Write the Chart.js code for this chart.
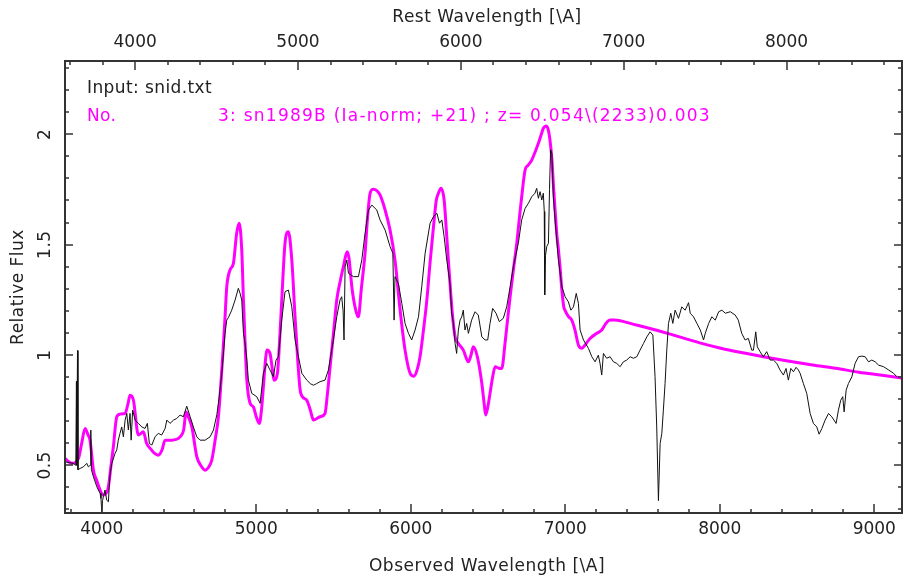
<!DOCTYPE html>
<html lang="en">
<head>
<meta charset="UTF-8">
<title>SNID fit</title>
<script src="https://cdn.jsdelivr.net/npm/chart.js"></script>
<style>
  html, body { margin: 0; padding: 0; background: #fff; }
  canvas { display: block; }
</style>
</head>
<body>
<canvas id="snChart" width="904" height="580"></canvas>
<script>
// input spectrum (observed wavelength, relative flux)
var obsWave = [3762,3790,3816,3832,3836,3838,3843,3846,3860,3881,3903,3913,3925,3929,3933,3946,3968,3989,3995,4000,
  4005,4010,4021,4032,4043,4048,4054,4065,4086,4097,4107,4118,4129,4140,4151,4162,4172,4183,4190,4200,
  4216,4237,4259,4280,4295,4308,4324,4345,4366,4388,4410,4421,4442,4464,4485,4507,4528,4550,4572,4593,
  4615,4636,4669,4701,4723,4745,4760,4777,4798,4809,4820,4841,4863,4884,4895,4906,4917,4928,4939,4949,
  4971,5003,5025,5046,5068,5089,5111,5128,5143,5165,5186,5208,5230,5251,5273,5295,5327,5350,5370,5390,
  5413,5445,5467,5499,5521,5542,5553,5562,5568,5575,5586,5597,5629,5661,5683,5704,5726,5748,5780,5801,
  5834,5866,5884,5892,5898,5920,5942,5963,5985,6006,6028,6050,6071,6093,6125,6147,6169,6186,6201,6216,
  6233,6254,6265,6276,6287,6297,6308,6319,6330,6340,6351,6362,6373,6394,6416,6437,6460,6481,6498,6513,
  6530,6552,6573,6599,6621,6643,6664,6696,6718,6740,6761,6783,6804,6815,6826,6837,6848,6858,6864,6867,
  6872,6880,6891,6898,6905,6913,6923,6934,6956,6978,6999,7020,7036,7053,7071,7085,7096,7118,7150,7172,
  7193,7214,7225,7236,7247,7268,7290,7312,7333,7355,7376,7398,7420,7441,7463,7484,7506,7528,7549,7567,
  7581,7592,7603,7614,7625,7635,7646,7657,7668,7683,7696,7711,7733,7754,7776,7798,7809,7830,7852,7874,
  7895,7906,7928,7949,7971,7993,8014,8036,8068,8100,8120,8142,8164,8185,8207,8218,8233,8243,8261,8282,
  8304,8326,8347,8369,8390,8412,8429,8444,8460,8477,8494,8509,8520,8541,8563,8585,8606,8628,8643,8661,
  8682,8704,8725,8753,8768,8783,8796,8805,8818,8833,8855,8876,8898,8920,8941,8963,8984,9006,9028,9060,
  9093,9125,9146];
var obsFlux = [0.516,0.512,0.509,0.50,0.88,0.50,1.02,0.48,0.486,0.493,0.509,0.493,0.50,0.660,0.48,0.448,0.403,0.373,0.35,0.289,
  0.34,0.357,0.388,0.342,0.335,0.40,0.463,0.509,0.554,0.569,0.614,0.645,0.674,0.629,0.705,0.735,0.660,0.735,0.614,0.750,
  0.705,0.690,0.674,0.667,0.690,0.599,0.592,0.629,0.645,0.637,0.667,0.705,0.690,0.705,0.712,0.728,0.720,0.768,0.720,0.674,
  0.629,0.614,0.614,0.629,0.66,0.73,0.81,0.917,1.098,1.158,1.17,1.203,1.249,1.302,1.28,1.249,1.098,1.05,0.977,0.886,
  0.826,0.811,0.781,0.917,0.962,0.932,0.901,0.977,0.992,1.158,1.287,1.294,1.218,1.068,0.992,0.917,0.886,0.87,0.863,0.87,
  0.879,0.886,0.932,1.068,1.173,1.249,1.264,1.20,1.068,1.400,1.43,1.370,1.355,1.355,1.430,1.551,1.657,1.679,1.657,1.612,
  1.566,1.491,1.461,1.158,1.355,1.324,1.234,1.143,1.098,1.068,1.113,1.173,1.309,1.461,1.597,1.627,1.642,1.597,1.612,1.536,
  1.430,1.324,1.189,1.143,1.052,1.007,1.113,1.158,1.173,1.203,1.113,1.143,1.098,1.158,1.196,1.181,1.082,1.068,1.068,1.143,
  1.211,1.189,1.151,1.166,1.218,1.309,1.400,1.506,1.612,1.664,1.687,1.717,1.733,1.755,1.710,1.740,1.702,1.733,1.65,1.272,
  1.45,1.491,1.506,1.75,1.93,1.914,1.717,1.612,1.430,1.309,1.264,1.241,1.203,1.218,1.279,1.234,1.113,1.068,1.030,0.992,
  0.969,0.999,0.962,0.909,1.007,0.985,0.992,0.969,0.962,0.947,0.969,0.977,0.992,0.985,0.992,1.022,1.052,1.082,1.105,1.090,
  0.904,0.674,0.340,0.599,0.645,0.750,0.871,1.022,1.143,1.189,1.143,1.203,1.166,1.218,1.203,1.237,1.189,1.173,1.143,1.113,
  1.068,1.098,1.143,1.173,1.158,1.196,1.203,1.189,1.196,1.181,1.158,1.098,1.068,1.075,1.022,1.022,1.105,1.037,1.015,0.992,
  1.015,0.977,0.977,0.962,0.932,0.909,0.939,0.886,0.939,0.924,0.944,0.932,0.917,0.871,0.826,0.735,0.690,0.674,0.641,0.667,
  0.705,0.735,0.720,0.690,0.750,0.795,0.811,0.742,0.841,0.871,0.901,0.962,0.992,0.995,0.992,0.969,0.977,0.969,0.954,0.947,
  0.932,0.917,0.901];

// sn1989B template, shifted to z = 0.054
var tmplWave = [3762,3806,3849,3870,3892,3910,3924,3946,3968,3989,4010,4030,4043,4060,4075,4097,4118,4151,4170,4183,
  4205,4237,4269,4290,4313,4340,4366,4390,4410,4453,4507,4530,4546,4560,4583,4615,4640,4669,4690,4712,
  4735,4755,4770,4785,4798,4809,4830,4852,4873,4889,4906,4917,4928,4939,4960,4981,5000,5020,5035,5046,
  5060,5068,5089,5105,5115,5137,5150,5165,5186,5208,5230,5251,5270,5284,5300,5327,5350,5370,5413,5445,
  5460,5478,5500,5521,5545,5564,5588,5600,5620,5645,5661,5680,5704,5720,5737,5758,5780,5801,5834,5866,
  5898,5931,5963,5996,6021,6040,6060,6080,6104,6125,6147,6165,6179,6196,6216,6233,6254,6270,6287,6308,
  6340,6373,6390,6405,6431,6460,6475,6485,6500,6513,6530,6546,6570,6589,6610,6625,6643,6665,6686,6700,
  6718,6740,6760,6783,6805,6826,6845,6858,6876,6890,6900,6913,6925,6934,6945,6956,6966,6978,6990,7000,
  7020,7042,7063,7085,7107,7128,7160,7204,7236,7260,7290,7320,7355,7420,7550,7700,7870,8000,8150,8300,
  8450,8600,8750,8900,9050,9190];
var tmplFlux = [0.531,0.509,0.531,0.60,0.667,0.64,0.614,0.478,0.43,0.388,0.365,0.375,0.403,0.50,0.584,0.720,0.732,0.735,0.78,0.818,
  0.795,0.637,0.652,0.60,0.577,0.555,0.546,0.57,0.614,0.614,0.629,0.66,0.742,0.72,0.674,0.539,0.50,0.478,0.49,0.524,
  0.62,0.72,0.86,1.02,1.173,1.309,1.385,1.415,1.551,1.597,1.476,1.249,1.05,0.886,0.781,0.765,0.72,0.690,0.76,0.856,
  0.98,1.022,1.007,0.93,0.886,0.917,1.05,1.249,1.506,1.558,1.430,1.173,0.96,0.841,0.81,0.795,0.75,0.705,0.720,0.735,
  0.82,0.947,1.10,1.249,1.34,1.400,1.468,1.44,1.30,1.20,1.173,1.30,1.46,1.62,1.733,1.751,1.745,1.725,1.657,1.566,
  1.430,1.203,1.022,0.917,0.904,0.93,0.992,1.10,1.249,1.42,1.581,1.70,1.733,1.755,1.702,1.536,1.324,1.18,1.082,1.052,
  1.022,0.969,1.00,1.037,0.992,0.871,0.78,0.728,0.77,0.826,0.90,0.947,0.94,0.939,1.052,1.15,1.264,1.39,1.506,1.60,
  1.717,1.838,1.86,1.883,1.92,1.959,2.00,2.027,2.038,2.02,1.98,1.89,1.75,1.657,1.55,1.476,1.40,1.294,1.22,1.20,
  1.175,1.158,1.113,1.045,1.030,1.045,1.075,1.098,1.113,1.14,1.158,1.158,1.155,1.143,1.12,1.09,1.055,1.032,1.01,0.99,
  0.972,0.955,0.940,0.922,0.908,0.894];

var zFit = 0.054;
var obsTicks = [4000,5000,6000,7000,8000,9000];
var restTicks = [4000,5000,6000,7000,8000];
var fluxTicks = [0.5,1,1.5,2];

var xMin = 3762, xMax = 9186;
var yMin = 0.284, yMax = 2.332;

function f_points(p_x, p_y){
    var v_pts = [];
    for(var i=0; i<p_x.length; i++){
        v_pts.push({x: p_x[i], y: p_y[i]});
    }
    return v_pts;
}

var FONT = '17px "DejaVu Sans"';
var INK = '#222';

// pgplot style box: frame, inward ticks on all four sides, labels
const boxPlugin = {
    id: 'boxPlugin',
    afterDraw(chart){
        var ctx = chart.ctx, a = chart.chartArea;
        var sx = chart.scales.x, sy = chart.scales.y, sr = chart.scales.xr;
        ctx.save();
        ctx.strokeStyle = '#333';
        ctx.lineWidth = 2;
        ctx.strokeRect(a.left, a.top, a.right - a.left - 1, a.bottom - a.top);

        ctx.lineWidth = 1.5;
        ctx.beginPath();
        // bottom: observed wavelength
        for(var w=3800; w<=xMax; w+=200){
            var px = Math.round(sx.getPixelForValue(w));
            var len = (w % 1000 == 0) ? 9 : 4;
            ctx.moveTo(px, a.bottom); ctx.lineTo(px, a.bottom - len);
        }
        // top: rest wavelength
        for(var r=3600; r<=sr.max; r+=200){
            var px2 = Math.round(sr.getPixelForValue(r));
            var len2 = (r % 1000 == 0) ? 9 : 4;
            ctx.moveTo(px2, a.top); ctx.lineTo(px2, a.top + len2);
        }
        // left and right: flux
        for(var k=3; k<=23; k++){
            var py = Math.round(sy.getPixelForValue(k / 10));
            var len3 = (k % 5 == 0) ? 8 : 4;
            ctx.moveTo(a.left, py); ctx.lineTo(a.left + len3, py);
            ctx.moveTo(a.right - 1, py); ctx.lineTo(a.right - 1 - len3, py);
        }
        ctx.stroke();

        ctx.fillStyle = INK;
        ctx.font = FONT;
        ctx.textAlign = 'center';
        ctx.textBaseline = 'middle';
        obsTicks.forEach(function(t){
            ctx.fillText(String(t), sx.getPixelForValue(t), 530);
        });
        restTicks.forEach(function(t){
            ctx.fillText(String(t), sr.getPixelForValue(t), 43);
        });
        ctx.letterSpacing = '0.5px';
        ctx.fillText('Observed Wavelength [\\A]', 487, 567);
        ctx.fillText('Rest Wavelength [\\A]', 487, 18);

        fluxTicks.forEach(function(t){
            ctx.save();
            ctx.translate(46, sy.getPixelForValue(t));
            ctx.rotate(-Math.PI / 2);
            ctx.fillText(String(t), 0, 0);
            ctx.restore();
        });
        ctx.save();
        ctx.translate(19, 287);
        ctx.rotate(-Math.PI / 2);
        ctx.fillText('Relative Flux', 0, 0);
        ctx.restore();

        ctx.textAlign = 'left';
        ctx.letterSpacing = '0.4px';
        ctx.fillText('Input: snid.txt', 87, 89);
        ctx.fillStyle = '#ff00ff';
        ctx.fillText('No.', 87, 117);
        ctx.letterSpacing = '1.25px';
        ctx.fillText('3: sn1989B (Ia-norm; +21) ; z= 0.054\\(2233)0.003', 218, 117);
        ctx.restore();
    }
};

const ctx = document.getElementById('snChart').getContext('2d');
const snChart = new Chart(ctx, {
    type: 'line',
    data: {
        datasets: [{
                label: 'snid.txt',
                data: f_points(obsWave, obsFlux),
                borderColor: '#111',
                borderWidth: 1,
                pointRadius: 0,
                order: 0
            },
            {
                label: 'sn1989B',
                data: f_points(tmplWave, tmplFlux),
                borderColor: '#ff00ff',
                borderWidth: 3,
                pointRadius: 0,
                cubicInterpolationMode: 'monotone',  // template is smooth
                order: 1
            }
        ]
    },
    options: {
        responsive: false,
        devicePixelRatio: 1,
        animation: false,
        layout: { padding: { left: 65, top: 61, right: 1, bottom: 67 } },
        plugins: { legend: { display: false }, tooltip: { enabled: false } },
        scales: {
            x: { type: 'linear', min: xMin, max: xMax, display: false },
            xr: { type: 'linear', position: 'top', min: xMin / (1 + zFit), max: xMax / (1 + zFit), display: false },
            y: { type: 'linear', min: yMin, max: yMax, display: false }
        }
    },
    plugins: [boxPlugin]
});
</script>
</body>
</html>
